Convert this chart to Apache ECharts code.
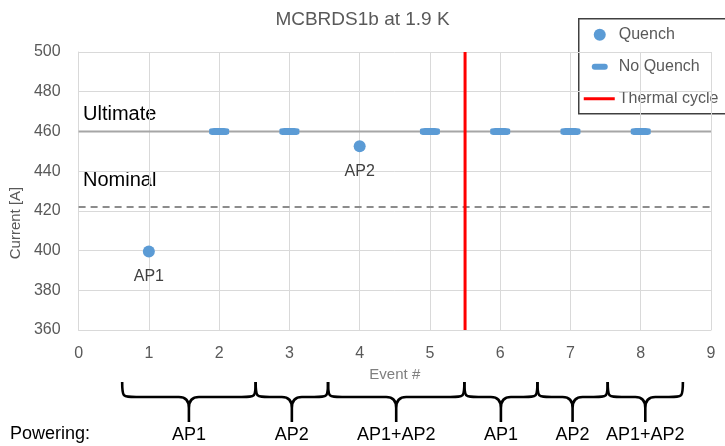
<!DOCTYPE html>
<html>
<head>
<meta charset="utf-8">
<script src="https://cdn.jsdelivr.net/npm/echarts@6/dist/echarts.min.js"></script>
<style>
  html, body { margin: 0; padding: 0; background: #fff; }
  #chart { width: 725px; height: 446px; }
</style>
</head>
<body>
<div id="chart"></div>
<script>
// data
const quenchPoints = [[1, 399.5], [4, 452.5]];
const quenchLabels = ['AP1', 'AP2'];
const noQuenchPoints = [[2, 460], [3, 460], [5, 460], [6, 460], [7, 460], [8, 460]];
const ultimateCurrent = 460;
const nominalCurrent = 422;
const thermalCycleAt = 5.5;

// powering braces under the x axis
const braceStart = [0.62, 2.52, 3.55, 5.49, 6.53, 7.53];
const braceEnd = [2.52, 3.55, 5.49, 6.53, 7.53, 8.6];
const braceLabels = ['AP1', 'AP2', 'AP1+AP2', 'AP1', 'AP2', 'AP1+AP2'];

const blue = '#5B9BD5';
const font = 'Liberation Sans';

const chart = echarts.init(document.getElementById('chart'));

function renderBrace(params, api) {
  const base = api.coord([api.value(0), 360]);
  const x1 = base[0];
  const x2 = api.coord([api.value(1), 360])[0];
  const xc = (x1 + x2) / 2;
  const y0 = base[1] + 52;
  const y1 = base[1] + 67;
  const y2 = base[1] + 92;
  const r = 10;
  const d = 'M' + x1 + ',' + y0 +
    ' C' + x1 + ',' + y1 + ' ' + x1 + ',' + y1 + ' ' + (x1 + r + 4) + ',' + y1 +
    ' L' + (xc - r) + ',' + y1 +
    ' Q' + xc + ',' + y1 + ' ' + xc + ',' + (y1 + 11) +
    ' L' + xc + ',' + y2 +
    ' M' + xc + ',' + (y1 + 11) +
    ' Q' + xc + ',' + y1 + ' ' + (xc + r) + ',' + y1 +
    ' L' + (x2 - r - 4) + ',' + y1 +
    ' C' + x2 + ',' + y1 + ' ' + x2 + ',' + y1 + ' ' + x2 + ',' + y0;
  return {
    type: 'group',
    children: [
      {
        type: 'path',
        shape: { pathData: d },
        style: { stroke: '#000', lineWidth: 2.6, fill: null }
      },
      {
        type: 'text',
        x: xc,
        y: base[1] + 105,
        style: {
          text: braceLabels[params.dataIndex],
          fill: '#000',
          font: '18px "' + font + '"',
          align: 'center',
          verticalAlign: 'middle'
        }
      }
    ]
  };
}

chart.setOption({
  animation: false,
  backgroundColor: '#fff',
  title: {
    text: 'MCBRDS1b at 1.9 K',
    left: 'center',
    top: 5,
    textStyle: { color: '#595959', fontSize: 19, fontWeight: 'normal', fontFamily: font }
  },
  grid: { left: 78, right: 14, top: 52, bottom: 116 },
  xAxis: {
    type: 'value',
    min: 0,
    max: 9,
    interval: 1,
    name: 'Event #',
    nameLocation: 'middle',
    nameGap: 31,
    nameTextStyle: { color: '#7F7F7F', fontSize: 15, fontFamily: font },
    axisLine: { show: true, lineStyle: { color: '#D9D9D9', width: 1 } },
    axisTick: { show: false },
    axisLabel: { color: '#595959', fontSize: 16, margin: 16, fontFamily: font },
    splitLine: { show: true, lineStyle: { color: '#D9D9D9', width: 1 } }
  },
  yAxis: {
    type: 'value',
    min: 360,
    max: 500,
    interval: 20,
    name: 'Current [A]',
    nameLocation: 'middle',
    nameGap: 52,
    nameTextStyle: { color: '#595959', fontSize: 15, fontFamily: font, padding: [0, 64, 0, 0] },
    axisLine: { show: true, lineStyle: { color: '#D9D9D9', width: 1 } },
    axisTick: { show: false },
    axisLabel: { color: '#595959', fontSize: 16, margin: 18, fontFamily: font },
    splitLine: { show: true, lineStyle: { color: '#D9D9D9', width: 1 } }
  },
  series: [
    {
      name: 'Ultimate',
      type: 'line',
      data: [[0, ultimateCurrent], [9, ultimateCurrent]],
      symbol: 'none',
      lineStyle: { color: '#A6A6A6', width: 2 },
      z: 1
    },
    {
      name: 'Nominal',
      type: 'line',
      data: [[0, nominalCurrent], [9, nominalCurrent]],
      symbol: 'none',
      lineStyle: { color: '#8C8C8C', width: 2, type: [7, 5] },
      z: 1
    },
    {
      name: 'Thermal cycle',
      type: 'line',
      data: [[thermalCycleAt, 360], [thermalCycleAt, 500]],
      symbol: 'none',
      lineStyle: { color: '#FF0000', width: 3 },
      z: 3
    },
    {
      name: 'No Quench',
      type: 'scatter',
      data: noQuenchPoints,
      symbol: 'roundRect',
      symbolSize: [20, 7],
      itemStyle: { color: blue, opacity: 1 },
      z: 4
    },
    {
      name: 'Quench',
      type: 'scatter',
      data: quenchPoints,
      symbol: 'circle',
      symbolSize: 12,
      itemStyle: { color: blue, opacity: 1 },
      label: {
        show: true,
        position: 'bottom',
        distance: 11,
        color: '#404040',
        fontSize: 16,
        fontFamily: font,
        formatter: p => quenchLabels[p.dataIndex]
      },
      z: 4
    },
    {
      name: 'Powering',
      type: 'custom',
      data: braceStart.map((s, i) => [s, braceEnd[i]]),
      renderItem: renderBrace,
      clip: false,
      silent: true,
      z: 5
    }
  ],
  graphic: [
    { type: 'text', left: 83, top: 104, style: { text: 'Ultimate', fill: '#000', font: '20px "' + font + '"' } },
    { type: 'text', left: 83, top: 170, style: { text: 'Nominal', fill: '#000', font: '20px "' + font + '"' } },
    { type: 'text', left: 10, top: 425, style: { text: 'Powering:', fill: '#000', font: '18px "' + font + '"' } },
    // legend box
    {
      type: 'group',
      left: 578,
      top: 18,
      z: 20,
      children: [
        { type: 'rect', shape: { x: 0, y: 0, width: 160, height: 95 }, style: { fill: '#fff', stroke: '#404040', lineWidth: 1.5 } },
        { type: 'circle', shape: { cx: 21, cy: 16, r: 6 }, style: { fill: blue } },
        { type: 'text', x: 40, y: 16, style: { text: 'Quench', fill: '#595959', font: '16px "' + font + '"', verticalAlign: 'middle' } },
        { type: 'rect', shape: { x: 13, y: 45, width: 16, height: 6, r: 3 }, style: { fill: blue } },
        { type: 'text', x: 40, y: 48, style: { text: 'No Quench', fill: '#595959', font: '16px "' + font + '"', verticalAlign: 'middle' } },
        { type: 'line', shape: { x1: 5, y1: 80, x2: 36, y2: 80 }, style: { stroke: '#FF0000', lineWidth: 3 } },
        { type: 'text', x: 40, y: 80, style: { text: 'Thermal cycle', fill: '#595959', font: '16px "' + font + '"', verticalAlign: 'middle' } }
      ]
    }
  ]
});
</script>
</body>
</html>
